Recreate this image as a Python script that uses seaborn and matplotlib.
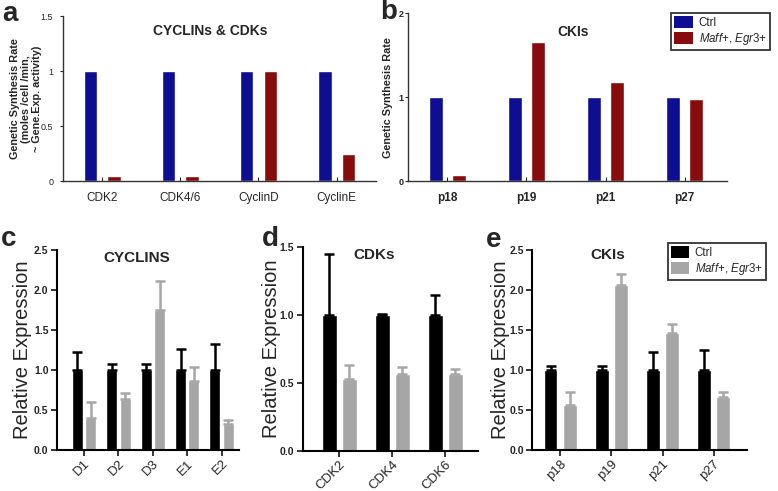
import numpy as np
import pandas as pd
import seaborn as sns
import matplotlib.pyplot as plt
from matplotlib.patches import Patch

sns.set_style('white')
plt.rcParams['font.family'] = ['Liberation Sans', 'DejaVu Sans']
plt.rcParams['mathtext.fontset'] = 'custom'
plt.rcParams['mathtext.rm'] = 'Liberation Sans'
plt.rcParams['mathtext.it'] = 'Liberation Sans:italic'

groups = ['Ctrl', 'Maff+, Egr3+']
legend_labels = ['Ctrl', r'$\mathit{Maff}$+, $\mathit{Egr3}$+']

# panel a - model synthesis rates
a_genes = ['CDK2', 'CDK4/6', 'CyclinD', 'CyclinE']
a_ctrl = [1, 1, 1, 1]
a_maff = [0.05, 0.05, 1.0, 0.25]

# panel b
b_genes = ['p18', 'p19', 'p21', 'p27']
b_ctrl = [1, 1, 1, 1]
b_maff = [0.07, 1.66, 1.18, 0.98]

# panel c - qPCR cyclins (mean, upper error)
c_genes = ['D1', 'D2', 'D3', 'E1', 'E2']
c_ctrl = [1, 1, 1, 1, 1]
c_ctrl_err = [0.23, 0.075, 0.08, 0.26, 0.325]
c_maff = [0.40, 0.64, 1.75, 0.86, 0.32]
c_maff_err = [0.20, 0.07, 0.36, 0.18, 0.05]

# panel d - CDKs
d_genes = ['CDK2', 'CDK4', 'CDK6']
d_ctrl = [1, 1, 1]
d_ctrl_err = [0.45, 0.01, 0.15]
d_maff = [0.53, 0.57, 0.57]
d_maff_err = [0.10, 0.05, 0.035]

# panel e - CKIs
e_genes = ['p18', 'p19', 'p21', 'p27']
e_ctrl = [1, 1, 1, 1]
e_ctrl_err = [0.045, 0.045, 0.23, 0.25]
e_maff = [0.56, 2.06, 1.46, 0.66]
e_maff_err = [0.16, 0.14, 0.12, 0.07]

top_colors = ['#0e0e92', '#880c0c']
bot_colors = ['#000000', '#a6a6a6']


def make_df(genes, ctrl, maff):
    return pd.DataFrame({
        'gene': genes * 2,
        'value': list(ctrl) + list(maff),
        'group': [groups[0]] * len(genes) + [groups[1]] * len(genes),
    })


def bars(ax, genes, ctrl, maff, colors, width, gap):
    df = make_df(genes, ctrl, maff)
    sns.barplot(data=df, x='gene', y='value', hue='group', hue_order=groups,
                palette=colors, width=width, gap=gap, saturation=1,
                errorbar=None, legend=False, ax=ax)


def add_err(ax, errs, colors):
    for cont, err, col in zip(ax.containers, errs, colors):
        xs = [p.get_x() + p.get_width() / 2 for p in cont]
        ys = [p.get_height() for p in cont]
        ax.errorbar(xs, ys, yerr=[np.zeros(len(err)), err], fmt='none',
                    ecolor=col, elinewidth=1.8, capsize=3.5, capthick=1.8, zorder=1)


fig = plt.figure(figsize=(7.78, 4.91), dpi=100)

# ---------- top row ----------
ax_a = fig.add_axes([0.081, 0.631, 0.402, 0.336])
bars(ax_a, a_genes, a_ctrl, a_maff, top_colors, 0.6, 0.43)
ax_a.set_xlim(-0.5, 3.5)
ax_a.set_ylim(0, 1.5)
ax_a.set_yticks([0, 0.5, 1, 1.5])
ax_a.set_yticklabels(['0', '0.5', '1', '1.5'], fontsize=6.5)
ax_a.tick_params(axis='x', labelsize=8.5, direction='in', length=3, pad=8)
ax_a.tick_params(axis='y', pad=5)
ax_a.set_xlabel('')
ax_a.set_ylabel('Genetic Synthesis Rate\n(moles /cell /min,\n~ Gene.Exp. activity)',
                fontsize=7.8, fontweight='bold', linespacing=1.15)
ax_a.yaxis.set_label_coords(-0.067, 0.5)
ax_a.text(0.47, 0.91, 'CYCLINs & CDKs', transform=ax_a.transAxes,
          ha='center', va='center', fontsize=10, fontweight='bold')

ax_b = fig.add_axes([0.524, 0.631, 0.410, 0.342])
bars(ax_b, b_genes, b_ctrl, b_maff, top_colors, 0.58, 0.38)
ax_b.set_xlim(-0.5, 3.53)
ax_b.set_ylim(0, 2)
ax_b.set_yticks([0, 1, 2])
ax_b.set_yticklabels(['0', '1', '2'], fontsize=6.5, fontweight='bold')
ax_b.tick_params(axis='x', labelsize=8.5, direction='in', length=3, pad=8)
ax_b.tick_params(axis='y', pad=1)
for t in ax_b.get_xticklabels():
    t.set_fontweight('bold')
ax_b.set_xlabel('')
ax_b.set_ylabel('Genetic Synthesis Rate', fontsize=7.8, fontweight='bold')
ax_b.yaxis.set_label_coords(-0.047, 0.5)
ax_b.text(0.52, 0.89, 'CKIs', transform=ax_b.transAxes,
          ha='center', va='center', fontsize=10, fontweight='bold')

for ax in (ax_a, ax_b):
    sns.despine(ax=ax)
    for s in ('left', 'bottom'):
        ax.spines[s].set_color('#333333')
        ax.spines[s].set_linewidth(1.0)
    ax.tick_params(axis='y', direction='out', length=2, width=0.8, left=True)
    ax.tick_params(axis='x', bottom=True, width=0.8)

leg_b = ax_b.legend([Patch(facecolor=c, edgecolor='none') for c in top_colors], legend_labels,
                    loc='upper left', bbox_to_anchor=(671 / 778, 1 - 13 / 491),
                    bbox_transform=fig.transFigure, fontsize=8.3, frameon=True,
                    fancybox=False, handlelength=1.6, handleheight=1.2,
                    handletextpad=0.5, labelspacing=0.15, borderpad=0.3, borderaxespad=0)
leg_b.get_frame().set_edgecolor('black')
leg_b.get_frame().set_linewidth(1.3)

# ---------- bottom row ----------
ax_c = fig.add_axes([0.073, 0.0835, 0.234, 0.407])
bars(ax_c, c_genes, c_ctrl, c_maff, bot_colors, 0.78, 0.18)
add_err(ax_c, [c_ctrl_err, c_maff_err], bot_colors)
ax_c.set_xlim(-0.79, 4.5)
ax_c.set_ylim(0, 2.5)
ax_c.text(0.44, 0.96, 'CYCLINS', transform=ax_c.transAxes,
          ha='center', va='center', fontsize=11, fontweight='bold')

ax_d = fig.add_axes([0.389, 0.0815, 0.225, 0.415])
bars(ax_d, d_genes, d_ctrl, d_maff, bot_colors, 0.76, 0.26)
add_err(ax_d, [d_ctrl_err, d_maff_err], bot_colors)
ax_d.set_xlim(-0.69, 2.61)
ax_d.set_ylim(0, 1.5)
ax_d.text(0.41, 0.96, 'CDKs', transform=ax_d.transAxes,
          ha='center', va='center', fontsize=11, fontweight='bold')

ax_e = fig.add_axes([0.684, 0.0835, 0.276, 0.407])
bars(ax_e, e_genes, e_ctrl, e_maff, bot_colors, 0.76, 0.29)
add_err(ax_e, [e_ctrl_err, e_maff_err], bot_colors)
ax_e.set_xlim(-0.55, 3.65)
ax_e.set_ylim(0, 2.5)
ax_e.text(0.35, 0.975, 'CKIs', transform=ax_e.transAxes,
          ha='center', va='center', fontsize=11, fontweight='bold')

for ax, lx in ((ax_c, -0.137), (ax_d, -0.125), (ax_e, -0.102)):
    sns.despine(ax=ax)
    for s in ('left', 'bottom'):
        ax.spines[s].set_color('black')
        ax.spines[s].set_linewidth(1.5)
    ax.set_yticks(np.arange(0, ax.get_ylim()[1] + 0.01, 0.5))
    ax.set_yticklabels([f'{v:.1f}' for v in ax.get_yticks()], fontsize=7.5, fontweight='bold')
    ax.tick_params(axis='y', direction='out', length=4, width=1.3, left=True, pad=2)
    ax.tick_params(axis='x', direction='out', length=4, width=1.3, bottom=True,
                   labelsize=9.5, pad=1.5)
    plt.setp(ax.get_xticklabels(), rotation=45, ha='right', rotation_mode='anchor')
    ax.set_xlabel('')
    ax.set_ylabel('Relative Expression', fontsize=14.5)
    ax.yaxis.set_label_coords(lx, 0.5)

leg_e = ax_e.legend([Patch(facecolor=c, edgecolor='none') for c in bot_colors], legend_labels,
                    loc='upper left', bbox_to_anchor=(668 / 778, 1 - 243 / 491),
                    bbox_transform=fig.transFigure, fontsize=8.3, frameon=True,
                    fancybox=False, handlelength=1.5, handleheight=1.2,
                    handletextpad=0.5, labelspacing=0.15, borderpad=0.3, borderaxespad=0)
leg_e.get_frame().set_edgecolor('black')
leg_e.get_frame().set_linewidth(1.3)

# panel letters
for letter, x, y in [('a', 2, 1), ('b', 380, -1), ('c', 1, 226), ('d', 262, 226), ('e', 486, 227)]:
    fig.text(x / 778, 1 - y / 491, letter, fontsize=20, fontweight='bold', ha='left', va='top')

fig.savefig('out.png', dpi=100)
